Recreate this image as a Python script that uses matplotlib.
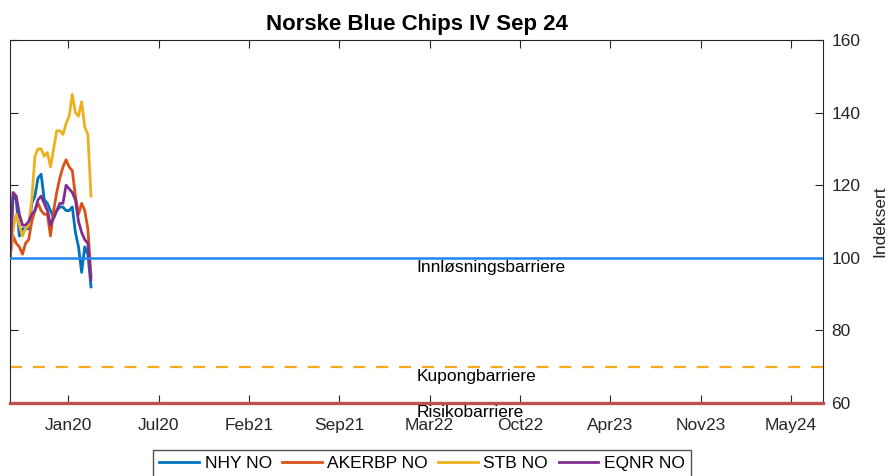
"""Norske Blue Chips IV Sep 24 - indexed underlyings vs. barriers."""
import numpy as np
import pandas as pd
import matplotlib
matplotlib.use("Agg")
import matplotlib.pyplot as plt

plt.rcParams["font.family"] = ["Liberation Sans", "DejaVu Sans"]

# weekly observations, indexed to 100 at start
start = pd.Timestamp("2019-09-13")
end = pd.Timestamp("2024-09-13")
dates = pd.date_range(start, periods=27, freq="7D")

nhy = [100, 117, 116, 106, 108, 108, 108, 115, 117, 122, 123, 116, 115, 113,
       111, 113, 114, 114, 113, 113, 114, 107, 103, 96, 103, 101, 92]
akerbp = [100, 106, 104, 103, 101, 104, 105, 110, 113, 115, 113, 112, 112, 106,
          113, 118, 122, 125, 127, 125, 124, 117, 112, 115, 113, 108, 95]
stb = [100, 108, 112, 109, 106, 108, 109, 116, 128, 130, 130, 128, 129, 125,
       130, 135, 135, 134, 137, 139, 145, 140, 139, 143, 136, 134, 117]
eqnr = [100, 118, 117, 112, 109, 109, 110, 112, 113, 116, 117, 115, 113, 109,
        111, 113, 115, 115, 120, 119, 118, 116, 110, 107, 105, 104, 94]

series_names = ["NHY NO", "AKERBP NO", "STB NO", "EQNR NO"]
series_colors = ["#0072BD", "#D95319", "#EDB120", "#7E2F8E"]

barrier_names = ["Innløsningsbarriere", "Kupongbarriere", "Risikobarriere"]
barrier_levels = [100, 70, 60]

tick_labels = ["Jan20", "Jul20", "Feb21", "Sep21", "Mar22",
               "Oct22", "Apr23", "Nov23", "May24"]
tick_dates = start + pd.to_timedelta(131 + 203 * np.arange(len(tick_labels)), unit="D")


fig = plt.figure(figsize=(8.94, 4.76), dpi=100)
ax = fig.add_axes([10 / 894, 1 - 403 / 476, 813 / 894, 363 / 476])

for vals, name, col in zip([nhy, akerbp, stb, eqnr], series_names, series_colors):
    ax.plot(dates, vals, color=col, lw=2.0, label=name)

ax.axhline(barrier_levels[0], color="#1f87ef", lw=1.8, zorder=3)
ax.axhline(barrier_levels[1], color="#fca81c", lw=1.6, dashes=(5.4, 4.9))
ax.axhline(barrier_levels[2], color="#c0504d", lw=2.4, clip_on=False, zorder=4)

mid = start + (end - start) / 2
for name, lvl in zip(barrier_names, barrier_levels):
    ax.text(mid, lvl - 0.6, name, ha="left", va="top", fontsize=12.5,
            color="black", clip_on=False, zorder=5)

ax.set_xlim(start, end)
ax.set_ylim(60, 160)
ax.set_xticks(tick_dates)
ax.set_xticklabels(tick_labels)
ax.set_yticks(range(60, 161, 20))

ax.yaxis.tick_right()
ax.yaxis.set_label_position("right")
ax.tick_params(axis="both", direction="in", length=6, width=0.8,
               colors="#262626", labelsize=12.5, labelcolor="#262626",
               top=True, bottom=True, left=True, right=True)
ax.tick_params(axis="x", pad=11)
ax.tick_params(axis="y", pad=6)
for sp in ax.spines.values():
    sp.set_color("#262626")
    sp.set_linewidth(0.8)

ax.set_ylabel("Indeksert", fontsize=12.5, color="#262626", labelpad=9)
ax.set_title("Norske Blue Chips IV Sep 24", fontsize=16, fontweight="bold", pad=7)

fig.legend(loc="upper center", bbox_to_anchor=(422 / 894, 1 - 450 / 476),
           ncol=4, fontsize=12.5, frameon=True, fancybox=False,
           edgecolor="#262626", handlelength=2.3, handletextpad=0.3,
           columnspacing=0.6, borderpad=0.35, borderaxespad=0)

fig.savefig("out.png", dpi=100)
